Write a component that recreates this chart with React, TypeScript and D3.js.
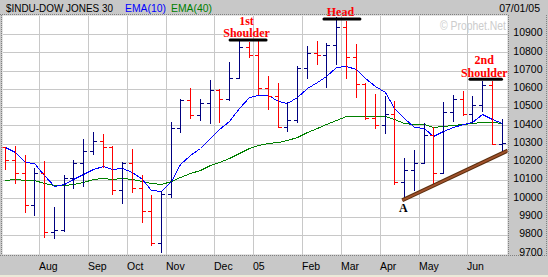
import React, { useEffect } from "react";
import * as d3 from "d3";

const WIDTH = 548;
const HEIGHT = 277;

// Weekly OHLC, weeks of Jul 5 2004 .. Jun 27 2005 (last bar dated 07/01/05)
const opens = [10282, 10213, 10139, 9962, 10139, 9815, 9825, 10110, 10195, 10260, 10314, 10284, 10047, 10192, 10055, 9933, 9757, 10027, 10387, 10539, 10456, 10522, 10592, 10543, 10661, 10827, 10783, 10603, 10558, 10393, 10427, 10716, 10796, 10785, 10841, 10940, 10774, 10629, 10442, 10404, 10461, 10088, 10157, 10193, 10346, 10140, 10471, 10542, 10460, 10512, 10623, 10297];
const highs = [10283, 10287, 10238, 10165, 10207, 9956, 10128, 10210, 10325, 10365, 10354, 10285, 10201, 10271, 10128, 10019, 10043, 10420, 10544, 10603, 10544, 10648, 10600, 10745, 10862, 10857, 10867, 10670, 10630, 10526, 10726, 10836, 10863, 10849, 10994, 10973, 10843, 10630, 10571, 10561, 10533, 10223, 10265, 10411, 10389, 10526, 10566, 10590, 10562, 10643, 10643, 10435];
const lows = [10161, 10083, 9928, 9910, 9791, 9782, 9820, 10059, 10070, 10242, 10174, 10026, 9977, 10034, 9873, 9745, 9705, 10010, 10362, 10439, 10431, 10415, 10420, 10540, 10657, 10775, 10571, 10488, 10390, 10369, 10420, 10661, 10734, 10611, 10735, 10657, 10557, 10435, 10384, 10357, 10077, 9995, 10046, 10192, 10074, 10138, 10424, 10457, 10415, 10478, 10296, 10253];
const closes = [10213, 10139, 9962, 10139, 9815, 9825, 10110, 10195, 10260, 10314, 10284, 10047, 10192, 10055, 9933, 9757, 10027, 10387, 10539, 10456, 10522, 10592, 10543, 10661, 10827, 10783, 10603, 10558, 10393, 10427, 10716, 10796, 10785, 10841, 10940, 10774, 10629, 10442, 10404, 10461, 10088, 10157, 10193, 10346, 10140, 10471, 10542, 10460, 10512, 10623, 10297, 10303];

const ema10 = [10280, 10256, 10201, 10196, 10130, 10068, 10077, 10104, 10132, 10161, 10179, 10161, 10165, 10146, 10107, 10045, 10041, 10097, 10187, 10238, 10278, 10332, 10380, 10424, 10493, 10557, 10566, 10566, 10533, 10521, 10557, 10603, 10639, 10670, 10719, 10726, 10708, 10660, 10617, 10581, 10493, 10438, 10389, 10384, 10340, 10369, 10393, 10406, 10420, 10464, 10435, 10411];
const ema40 = [10101, 10104, 10101, 10099, 10086, 10074, 10074, 10081, 10092, 10105, 10110, 10105, 10110, 10105, 10097, 10083, 10077, 10097, 10119, 10138, 10156, 10183, 10198, 10220, 10247, 10274, 10292, 10302, 10311, 10320, 10338, 10362, 10384, 10406, 10429, 10451, 10453, 10451, 10451, 10451, 10436, 10415, 10408, 10406, 10391, 10398, 10402, 10406, 10411, 10420, 10416, 10411];

const monthLabels = ["Aug", "Sep", "Oct", "Nov", "Dec", "05", "Feb", "Mar", "Apr", "May", "Jun"];
const monthStartIdx = [4, 9, 13, 17, 22, 26, 31, 35, 39, 43, 48];
const yTicks = [9700, 9800, 9900, 10000, 10100, 10200, 10300, 10400, 10500, 10600, 10700, 10800, 10900];

// Pattern annotations (bar index span, price level)
const patternLabels = [["1st", "Shoulder"], ["Head"], ["2nd", "Shoulder"]];
const patternFrom = [23.1, 32.75, 47.76];
const patternTo = [26.8, 36.45, 51.0];
const patternLevel = [10867, 10982, 10652];

// Trend line from point A
const trendIdx = [40.8, 51.65];
const trendVal = [9990, 10262];

const UP = "#000080";
const DOWN = "#ff0000";
const BG = "#c8c8c8";
const GRID = "#c8c8c8";
const SANS = "'Liberation Sans', Arial, sans-serif";
const SERIF = "'Liberation Serif', 'Times New Roman', serif";

export default function App() {
  useEffect(() => {
    document.body.style.margin = "0";
  }, []);

  const plot = { left: 2.5, right: 507.5, top: 15.5, bottom: 254.5 };
  const x = d3.scaleLinear().domain([0, 51]).range([5.3, 501.5]);
  const y = d3.scaleLinear().domain([9700, 11000]).range([253.3, 15.7]);
  const px = (i: number) => Math.round(x(i)) + 0.5;
  const py = (v: number) => Math.round(y(v)) + 0.5;

  const line = d3
    .line<number>()
    .x((_, i) => Math.round(x(i)) + 0.5)
    .y((v) => Math.round(y(v)) + 0.5);

  return (
    <svg
      width={WIDTH}
      height={HEIGHT}
      viewBox={`0 0 ${WIDTH} ${HEIGHT}`}
      style={{ position: "absolute", left: 0, top: 0, display: "block" }}
    >
      <defs>
        <clipPath id="plotClip">
          <rect x={plot.left} y={plot.top} width={plot.right - plot.left} height={plot.bottom - plot.top} />
        </clipPath>
      </defs>
      <rect x={0} y={0} width={WIDTH} height={HEIGHT} fill={BG} />
      <rect x={0} y={275} width={WIDTH} height={2} fill="#ece9d8" />
      <rect x={plot.left} y={plot.top} width={plot.right - plot.left} height={plot.bottom - plot.top} fill="#ffffff" />

      {/* grid */}
      <g shapeRendering="crispEdges" stroke={GRID} strokeWidth={1}>
        {yTicks.slice(1).map((t) => (
          <line key={"gy" + t} x1={plot.left} x2={plot.right} y1={py(t)} y2={py(t)} />
        ))}
        {monthStartIdx.map((i) => (
          <line key={"gx" + i} x1={Math.round(x(i - 0.5)) + 0.5} x2={Math.round(x(i - 0.5)) + 0.5} y1={plot.top} y2={plot.bottom} />
        ))}
      </g>

      {/* watermark */}
      <text x={506} y={30} textAnchor="end" fontFamily={SANS} fontSize={12} fill="#cccccc" textLength={66} lengthAdjust="spacingAndGlyphs">
        © Prophet.Net
      </text>

      <g clipPath="url(#plotClip)">
        {/* EMAs */}
        <path d={line(ema40) || ""} fill="none" stroke="#008000" strokeWidth={1} shapeRendering="crispEdges" />
        <path d={line(ema10) || ""} fill="none" stroke="#0000ff" strokeWidth={1} shapeRendering="crispEdges" />

        {/* OHLC bars */}
        <g shapeRendering="crispEdges" strokeWidth={1}>
          {closes.map((c, i) => {
            const prev = i === 0 ? opens[0] : closes[i - 1];
            const col = c < prev ? DOWN : UP;
            const bx = px(i);
            return (
              <g key={"b" + i} stroke={col}>
                <line x1={bx} x2={bx} y1={Math.round(y(highs[i]))} y2={Math.round(y(lows[i])) + 1} />
                <line x1={bx - 3.5} x2={bx} y1={py(opens[i])} y2={py(opens[i])} />
                <line x1={bx} x2={bx + 3.5} y1={py(c)} y2={py(c)} />
              </g>
            );
          })}
        </g>

        {/* trend line */}
        <line
          x1={x(trendIdx[0])}
          y1={y(trendVal[0])}
          x2={x(trendIdx[1])}
          y2={y(trendVal[1])}
          stroke="#5a2d0c"
          strokeWidth={4}
        />
        <line
          x1={x(trendIdx[0])}
          y1={y(trendVal[0])}
          x2={x(trendIdx[1])}
          y2={y(trendVal[1])}
          stroke="#a0522d"
          strokeWidth={2}
        />
      </g>

      {/* pattern annotations */}
      {patternLabels.map((lbls, k) => {
        const x1 = x(patternFrom[k]);
        const x2 = x(patternTo[k]);
        const ly = y(patternLevel[k]);
        const cx = (x1 + x2) / 2 - 1.5;
        return (
          <g key={"p" + k}>
            <line x1={x1} x2={x2} y1={ly} y2={ly} stroke="#000000" strokeWidth={3} strokeLinecap="round" />
            {lbls.map((t, j) => (
              <text
                key={t}
                x={cx}
                y={ly - 2.8 - (lbls.length - 1 - j) * 12.5}
                textAnchor="middle"
                fontFamily={SERIF}
                fontWeight="bold"
                fontSize={12}
                fill="#ff0000"
              >
                {t}
              </text>
            ))}
          </g>
        );
      })}
      <text x={x(trendIdx[0]) + 1} y={y(trendVal[0]) + 12} textAnchor="middle" fontFamily={SERIF} fontWeight="bold" fontSize={12} fill="#000000">
        A
      </text>

      {/* borders */}
      <g fill="none" stroke="#808080" strokeWidth={1} strokeDasharray="1,1" shapeRendering="crispEdges">
        <line x1={1.5} x2={1.5} y1={15} y2={255} />
        <line x1={plot.right + 0.5} x2={plot.right + 0.5} y1={15} y2={256} />
        <line x1={546.5} x2={546.5} y1={15} y2={256} />
        <line x1={0} x2={548} y1={255.5} y2={255.5} />
        <line x1={0} x2={507} y1={14.5} y2={14.5} />
      </g>

      {/* header */}
      <text x={6} y={11.5} fontFamily={SANS} fontSize={11} fill="#000000" textLength={107} lengthAdjust="spacingAndGlyphs">
        $INDU-DOW JONES 30
      </text>
      <text x={125} y={11.5} fontFamily={SANS} fontSize={11} fill="#0000ff" textLength={41} lengthAdjust="spacingAndGlyphs">
        EMA(10)
      </text>
      <text x={171} y={11.5} fontFamily={SANS} fontSize={11} fill="#008000" textLength={41} lengthAdjust="spacingAndGlyphs">
        EMA(40)
      </text>
      <text x={540} y={12} textAnchor="end" fontFamily={SANS} fontSize={10.5} fill="#000000">
        07/01/05
      </text>

      {/* right axis */}
      {yTicks.map((t) => (
        <text key={"yl" + t} x={542.5} y={y(t) + 2.3} textAnchor="end" fontFamily={SANS} fontSize={10.5} fill="#000000">
          {t}
        </text>
      ))}

      {/* month labels */}
      {monthStartIdx.map((i, k) => (
        <text key={"m" + i} x={Math.round(x(i - 0.5))} y={270} fontFamily={SANS} fontSize={10.5} fill="#000000">
          {monthLabels[k]}
        </text>
      ))}
    </svg>
  );
}
